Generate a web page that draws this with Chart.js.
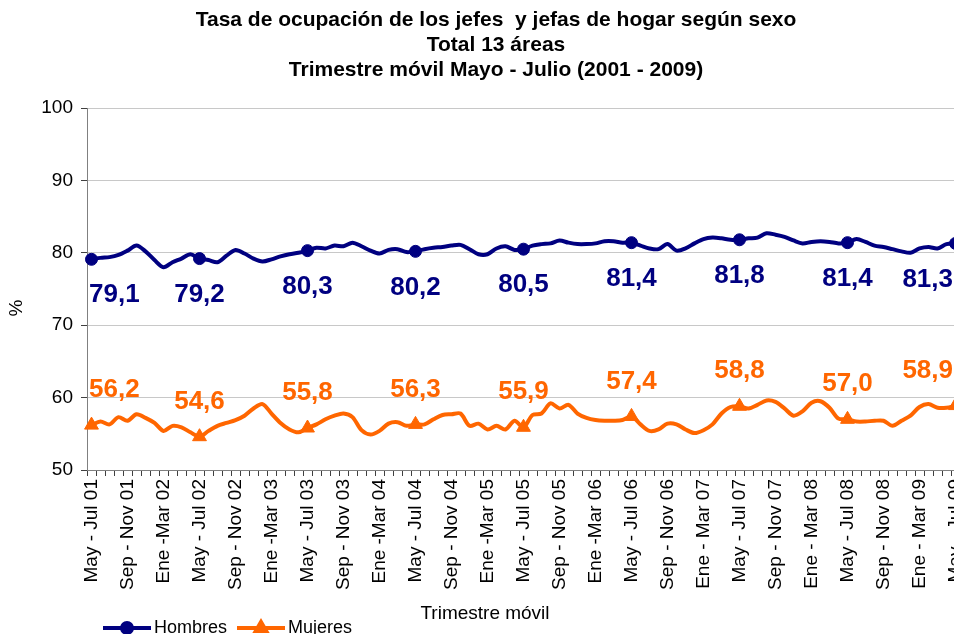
<!DOCTYPE html>
<html>
<head>
<meta charset="utf-8">
<script src="https://cdn.jsdelivr.net/npm/chart.js@4"></script>
<style>
html, body { margin: 0; padding: 0; overflow: hidden; background: #fff; }
</style>
</head>
<body>
<canvas id="grafico" width="992" height="660"></canvas>
<script>
// etiquetas del eje (una cada 4 trimestres)
const tickLabels = [
  "May - Jul 01", "Sep - Nov 01", "Ene -Mar 02",
  "May - Jul 02", "Sep - Nov 02", "Ene -Mar 03",
  "May - Jul 03", "Sep - Nov 03", "Ene -Mar 04",
  "May - Jul 04", "Sep - Nov 04", "Ene -Mar 05",
  "May - Jul 05", "Sep - Nov 05", "Ene -Mar 06",
  "May - Jul 06", "Sep - Nov 06", "Ene - Mar 07",
  "May - Jul 07", "Sep - Nov 07", "Ene - Mar 08",
  "May - Jul 08", "Sep - Nov 08", "Ene - Mar 09",
  "May - Jul 09"
];

const trimestres = ["May - Jul", "Jun - Ago", "Jul - Sep", "Ago - Oct", "Sep - Nov", "Oct - Dic",
                    "Nov - Ene", "Dic - Feb", "Ene - Mar", "Feb - Abr", "Mar - May", "Abr - Jun"];

const hombres = [
  79.1, 79.3, 79.4, 79.7, 80.3, 81.0, 80.2, 79.0, 78.0, 78.7, 79.2, 79.8,
  79.2, 79.0, 78.7, 79.6, 80.4, 79.9, 79.2, 78.8, 79.1, 79.5, 79.8, 80.0,
  80.3, 80.7, 80.6, 81.0, 80.9, 81.4, 80.9, 80.3, 79.9, 80.4, 80.5, 80.1,
  80.2, 80.5, 80.7, 80.8, 81.0, 81.1, 80.5, 79.8, 79.8, 80.6, 80.9, 80.4,
  80.5, 81.0, 81.2, 81.3, 81.7, 81.4, 81.2, 81.2, 81.3, 81.6, 81.6, 81.4,
  81.4, 81.0, 80.6, 80.5, 81.2, 80.3, 80.6, 81.3, 81.9, 82.1, 82.0, 81.8,
  81.8, 82.0, 82.1, 82.7, 82.5, 82.2, 81.7, 81.3, 81.5, 81.6, 81.5, 81.3,
  81.4, 81.9, 81.5, 81.0, 80.8, 80.5, 80.2, 80.0, 80.6, 80.8, 80.6, 81.2,
  81.3
];

const mujeres = [
  56.2, 56.7, 56.3, 57.3, 56.8, 57.7, 57.2, 56.5, 55.4, 56.1, 55.9, 55.2,
  54.6, 55.4, 56.1, 56.5, 56.9, 57.5, 58.5, 59.1, 57.8, 56.5, 55.6, 55.2,
  55.8, 56.3, 57.0, 57.5, 57.8, 57.3, 55.5, 54.9, 55.4, 56.4, 56.6, 56.1,
  56.3, 56.3, 57.0, 57.6, 57.7, 57.8, 56.1, 56.4, 55.6, 56.1, 55.6, 56.8,
  55.9, 57.6, 57.8, 59.2, 58.5, 59.0, 57.8, 57.2, 56.9, 56.8, 56.8, 56.9,
  57.4, 56.3, 55.4, 55.6, 56.4, 56.3, 55.6, 55.1, 55.5, 56.3, 57.8, 58.7,
  58.8, 58.5, 59.0, 59.6, 59.4, 58.5, 57.5, 58.1, 59.3, 59.5, 58.6, 57.1,
  57.0, 56.7, 56.7, 56.8, 56.8, 56.1, 56.8, 57.5, 58.7, 59.1, 58.6, 58.6,
  58.9
];

// un trimestre movil por mes, desde May - Jul 2001
const categorias = hombres.map((v, i) => {
  const anio = 2001 + Math.floor((i + 4) / 12);
  return trimestres[i % 12] + " " + String(anio).slice(2);
});

const AZUL = "#000080";
const NARANJA = "#FF6600";
const FUENTE = "Arial, 'Liberation Sans', sans-serif";

// solo mayo-julio lleva marcador
const radios = r => categorias.map((c, i) => i % 12 === 0 ? r : 0);

// valores de mayo-julio escritos sobre/bajo la linea
const etiquetas = {
  id: "etiquetas",
  afterDatasetsDraw(chart) {
    const ctx = chart.ctx;
    ctx.save();
    ctx.font = "bold 26px " + FUENTE;
    ctx.textBaseline = "middle";
    chart.data.datasets.forEach((ds, d) => {
      const meta = chart.getDatasetMeta(d);
      meta.data.forEach((pt, i) => {
        if (i % 12) return;
        const txt = ds.data[i].toFixed(1).replace(".", ",");
        const w = ctx.measureText(txt).width;
        let x = pt.x - w / 2;
        x = Math.max(chart.chartArea.left + 2, Math.min(x, 953 - w));
        const y = d === 0 ? pt.y + 36 : pt.y - 35;
        ctx.fillStyle = ds.borderColor;
        ctx.fillText(txt, x, y);
      });
    });
    ctx.restore();
  }
};

// titulos de ejes y leyenda abajo a la izquierda
const leyenda = {
  id: "leyenda",
  afterDraw(chart) {
    const ctx = chart.ctx;
    ctx.save();
    ctx.font = "19px " + FUENTE;
    ctx.textBaseline = "middle";
    ctx.textAlign = "center";
    ctx.fillStyle = "#000";
    ctx.fillText("Trimestre móvil", 485, 614);

    ctx.save();
    ctx.translate(17, 308);
    ctx.rotate(-Math.PI / 2);
    ctx.fillText("%", 0, 0);
    ctx.restore();

    const y = 628;
    const items = [
      { x: 103, label: "Hombres", color: AZUL, style: "circle", r: 5 },
      { x: 237, label: "Mujeres", color: NARANJA, style: "triangle", r: 6 }
    ];
    ctx.font = "18px " + FUENTE;
    ctx.textAlign = "left";
    items.forEach(it => {
      ctx.strokeStyle = it.color;
      ctx.lineWidth = 4;
      ctx.beginPath();
      ctx.moveTo(it.x, y);
      ctx.lineTo(it.x + 48, y);
      ctx.stroke();
      ctx.fillStyle = it.color;
      Chart.helpers.drawPoint(ctx, { pointStyle: it.style, radius: it.r, borderWidth: 1 }, it.x + 24, y);
      ctx.fillStyle = "#000";
      ctx.fillText(it.label, it.x + 51, y);
    });
    ctx.restore();
  }
};

Chart.defaults.font.family = FUENTE;
Chart.defaults.color = "#000";

new Chart(document.getElementById("grafico"), {
  type: "line",
  data: {
    labels: categorias,
    datasets: [
      {
        label: "Hombres",
        data: hombres,
        borderColor: AZUL,
        backgroundColor: AZUL,
        borderWidth: 4,
        pointStyle: "circle",
        pointRadius: radios(6),
        pointBorderWidth: 1,
        tension: 0.3
      },
      {
        label: "Mujeres",
        data: mujeres,
        borderColor: NARANJA,
        backgroundColor: NARANJA,
        borderWidth: 4,
        pointStyle: "triangle",
        pointRadius: radios(8),
        pointBorderWidth: 1,
        tension: 0.3
      }
    ]
  },
  options: {
    responsive: false,
    animation: false,
    devicePixelRatio: 1,
    layout: { padding: 0 },
    plugins: {
      legend: { display: false },
      tooltip: { enabled: false },
      title: {
        display: true,
        text: [
          "Tasa de ocupación de los jefes  y jefas de hogar según sexo",
          "Total 13 áreas",
          "Trimestre móvil Mayo - Julio (2001 - 2009)"
        ],
        color: "#000",
        font: { size: 21, weight: "bold", lineHeight: 25 / 21 },
        padding: { top: 7.5, bottom: 25.5 }
      }
    },
    scales: {
      x: {
        offset: true,
        grid: { offset: true, drawOnChartArea: false, tickLength: 6, color: "#404040" },
        border: { color: "#808080", width: 1 },
        ticks: {
          autoSkip: false,
          minRotation: 90,
          maxRotation: 90,
          padding: 3,
          font: { size: 19 },
          callback: (v, i) => i % 4 === 0 ? tickLabels[i / 4] : ""
        },
        afterFit(s) { s.height = 190; }
      },
      y: {
        min: 50,
        max: 100,
        ticks: { stepSize: 10, padding: 8, font: { size: 19 } },
        grid: { color: "#c8c8c8", tickLength: 6, tickColor: "#404040" },
        border: { color: "#808080", width: 1 },
        afterFit(s) { s.width = 87; }
      },
      y2: {
        position: "right",
        grid: { display: false },
        border: { display: false },
        ticks: { display: false },
        afterFit(s) { s.width = 32; }
      }
    }
  },
  plugins: [etiquetas, leyenda]
});
</script>
</body>
</html>
